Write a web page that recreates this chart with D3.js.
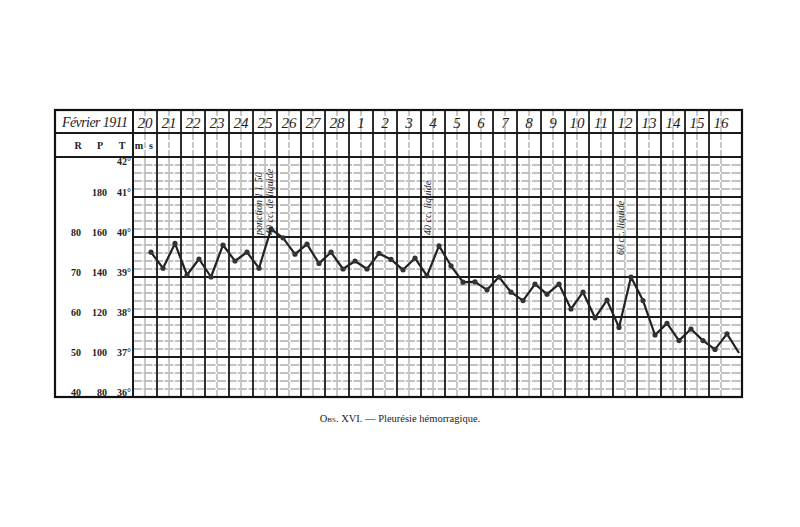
<!DOCTYPE html>
<html>
<head>
<meta charset="utf-8">
<script src="https://cdn.jsdelivr.net/npm/d3@7"></script>
<style>
  body { margin: 0; background: #fff; }
  svg { display: block; }
  text { font-family: "Liberation Serif", "DejaVu Serif", serif; fill: #222; }
  .hand { font-style: italic; }
</style>
</head>
<body>
<svg id="chart"></svg>
<script>
const width = 800;
const height = 527;

// days of the chart (février -> mars)
const days = ["20","21","22","23","24","25","26","27","28","1","2","3","4","5","6","7","8","9","10","11","12","13","14","15","16"];

// temperature, morning (m) and evening (s) readings
const tempMorning = [null,39.22,39.05,39.0,39.4,39.22,39.98,39.82,39.62,39.4,39.59,39.18,39.03,39.28,38.88,39.0,38.41,38.57,38.2,37.98,37.74,38.41,37.84,37.7,37.19];
const tempEvening = [39.62,39.84,39.45,39.8,39.62,40.2,39.57,39.34,39.2,39.2,39.44,39.47,39.78,38.87,38.68,38.62,38.82,38.82,38.62,38.42,39.0,37.55,37.41,37.41,37.58];
const nextMorning = 37.1; // line runs off the right edge

// scale labels
const tLabels = [36, 37, 38, 39, 40, 41, 42];
const pLabels = [[41, "180"], [40, "160"], [39, "140"], [38, "120"], [37, "100"], [36, "80"]];
const rLabels = [[40, "80"], [39, "70"], [38, "60"], [37, "50"], [36, "40"]];

// handwritten notes
const notes = [
  {day: "25", dx: 0.2, bottomT: 40.05, lines: ["ponction 1 l. 50", "40 cc. de liquide"]},
  {day: "4", dx: 0.25, bottomT: 40.05, lines: ["40 cc. liquide"]},
  {day: "12", dx: 0.3, bottomT: 39.55, lines: ["60 cc. liquide"]}
];

const frameLeft = 55, labelRight = 133, frameRight = 742, frameTop = 110, row1 = 133, row2 = 157, frameBottom = 397;

const svg = d3.select("#chart").attr("width", width).attr("height", height);

const x = d3.scaleBand().domain(days).range([labelRight, 733]);
const y = d3.scaleLinear().domain([36, 42]).range([frameBottom, row2]);
const bw = x.bandwidth();

const grid = svg.append("g");

// thin horizontal lines every 0.2°
grid.selectAll(".hminor")
  .data(d3.range(36.2, 42, 0.2).filter(v => Math.abs(v - Math.round(v)) > 0.05))
  .enter().append("line")
  .attr("x1", labelRight).attr("x2", frameRight)
  .attr("y1", d => y(d)).attr("y2", d => y(d))
  .attr("stroke", "#666").attr("stroke-width", 0.8)
  .attr("stroke-dasharray", "9,1.5");

// thin vertical m/s lines
grid.selectAll(".vminor")
  .data(days).enter().append("line")
  .attr("x1", d => x(d) + bw / 2).attr("x2", d => x(d) + bw / 2)
  .attr("y1", frameTop).attr("y2", frameBottom)
  .attr("stroke", "#777").attr("stroke-width", 0.8)
  .attr("stroke-dasharray", "6,2");

// thick horizontal degree lines
grid.selectAll(".hmajor")
  .data(tLabels.filter(t => t > 36 && t < 42)).enter().append("line")
  .attr("x1", labelRight).attr("x2", frameRight)
  .attr("y1", d => y(d)).attr("y2", d => y(d))
  .attr("stroke", "#1a1a1a").attr("stroke-width", 1.8);

// thick vertical day lines
grid.selectAll(".vmajor")
  .data(days.slice(1)).enter().append("line")
  .attr("x1", d => x(d)).attr("x2", d => x(d))
  .attr("y1", frameTop).attr("y2", frameBottom)
  .attr("stroke", "#1a1a1a").attr("stroke-width", 1.8);

// header and frame
[[frameLeft, row1, frameRight, row1], [frameLeft, row2, frameRight, row2], [labelRight, frameTop, labelRight, frameBottom]].forEach(l => {
  grid.append("line").attr("x1", l[0]).attr("y1", l[1]).attr("x2", l[2]).attr("y2", l[3])
    .attr("stroke", "#1a1a1a").attr("stroke-width", 2);
});
grid.append("rect")
  .attr("x", frameLeft).attr("y", frameTop).attr("width", frameRight - frameLeft).attr("height", frameBottom - frameTop)
  .attr("fill", "none").attr("stroke", "#111").attr("stroke-width", 2.2);

// header texts
svg.append("text").attr("class", "hand")
  .attr("x", 62).attr("y", 127)
  .attr("font-size", 14).attr("textLength", 66)
  .text("Février 1911");

svg.selectAll(".day")
  .data(days).enter().append("text").attr("class", "hand")
  .attr("x", d => x(d) + bw / 2).attr("y", 128)
  .attr("text-anchor", "middle").attr("font-size", 15)
  .text(d => d);

[["R", 78], ["P", 100], ["T", 122]].forEach(d => {
  svg.append("text").attr("x", d[1]).attr("y", 149)
    .attr("text-anchor", "middle").attr("font-size", 10).attr("font-weight", "bold").text(d[0]);
});
[["m", x("20") + bw / 4], ["s", x("20") + 3 * bw / 4]].forEach(d => {
  svg.append("text").attr("x", d[1]).attr("y", 149)
    .attr("text-anchor", "middle").attr("font-size", 10).attr("font-weight", "bold").text(d[0]);
});

// scale labels
const labY = d => d === 42 ? y(d) + 8 : y(d) - 1;

svg.selectAll(".tlab")
  .data(tLabels).enter().append("text")
  .attr("x", 131).attr("y", labY)
  .attr("text-anchor", "end").attr("font-size", 10).attr("font-weight", "bold")
  .text(d => d + "°");

svg.selectAll(".plab")
  .data(pLabels).enter().append("text")
  .attr("x", 107).attr("y", d => labY(d[0]))
  .attr("text-anchor", "end").attr("font-size", 10).attr("font-weight", "bold")
  .text(d => d[1]);

svg.selectAll(".rlab")
  .data(rLabels).enter().append("text")
  .attr("x", 81).attr("y", d => labY(d[0]))
  .attr("text-anchor", "end").attr("font-size", 10).attr("font-weight", "bold")
  .text(d => d[1]);

// temperature curve
const points = [];
days.forEach((d, i) => {
  if (tempMorning[i] != null) points.push({x: x(d) + bw / 4, t: tempMorning[i]});
  if (tempEvening[i] != null) points.push({x: x(d) + 3 * bw / 4, t: tempEvening[i]});
});
const tail = {x: x(days[days.length - 1]) + bw * 1.25, t: nextMorning};

const line = d3.line().x(d => d.x).y(d => y(d.t));

svg.append("path")
  .attr("d", line(points.concat([tail])))
  .attr("fill", "none")
  .attr("stroke", "#222")
  .attr("stroke-width", 2.2)
  .attr("stroke-linejoin", "round");

svg.selectAll(".dot")
  .data(points).enter().append("circle")
  .attr("cx", d => d.x).attr("cy", d => y(d.t))
  .attr("r", 2.6).attr("fill", "#333");

// notes, written vertically
notes.forEach(n => {
  n.lines.forEach((txt, j) => {
    const nx = x(n.day) + bw * n.dx + j * 11;
    svg.append("text").attr("class", "hand")
      .attr("transform", `translate(${nx + 4},${y(n.bottomT)}) rotate(-90)`)
      .attr("font-size", 10)
      .text(txt);
  });
});

// caption
const cap = svg.append("text")
  .attr("x", 400).attr("y", 422)
  .attr("text-anchor", "middle").attr("font-size", 10.5);
cap.append("tspan").attr("font-variant", "small-caps").text("Obs. XVI.");
cap.append("tspan").text(" — Pleurésie hémorragique.");
</script>
</body>
</html>
